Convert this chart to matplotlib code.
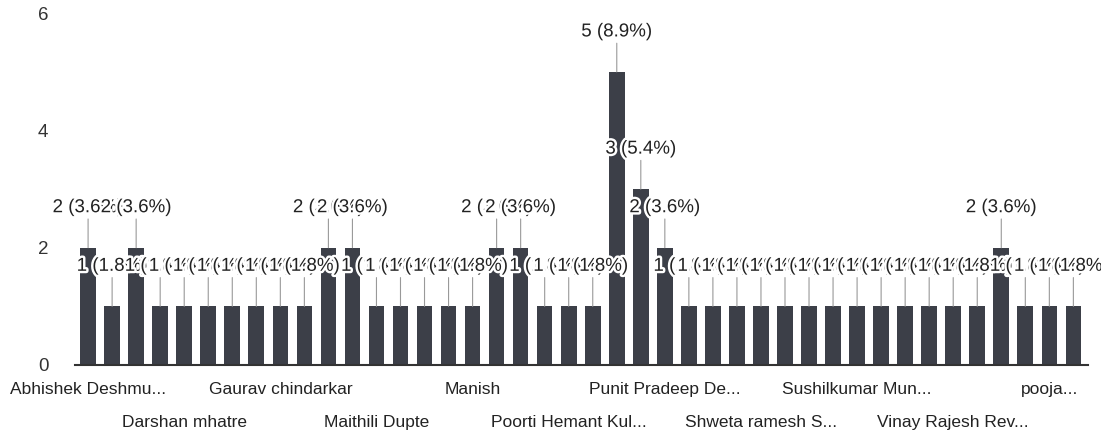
import matplotlib
matplotlib.use("Agg")
import matplotlib.pyplot as plt
import matplotlib.patheffects as pe

# responses per person (56 in total), left to right
counts = [2, 1, 2, 1, 1, 1, 1, 1, 1, 1,
          2, 2, 1, 1, 1, 1, 1, 2, 2, 1,
          1, 1, 5, 3, 2, 1, 1, 1, 1, 1,
          1, 1, 1, 1, 1, 1, 1, 1, 2, 1,
          1, 1]
# only every 4th name is printed under the axis
shown_names = ["Abhishek Deshmu...", "Darshan mhatre", "Gaurav chindarkar",
               "Maithili Dupte", "Manish", "Poorti Hemant Kul...",
               "Punit Pradeep De...", "Shweta ramesh S...", "Sushilkumar Mun...",
               "Vinay Rajesh Rev...", "pooja..."]
label_step = 4
y_ticks = [0, 2, 4, 6]

total = sum(counts)
plt.rcParams['font.family'] = ['Liberation Sans', 'DejaVu Sans']

fig = plt.figure(figsize=(11.01, 4.45), dpi=100)
ax = fig.add_axes([0.068, 0.18, 0.92, 0.79])

x = list(range(len(counts)))
ax.bar(x, counts, width=0.65, color='#3c3f48', zorder=2)

for i, c in enumerate(counts):
    ax.annotate(f"{c} ({c / total * 100:.1f}%)", xy=(i, c), xytext=(0, 40),
                textcoords='offset pixels', ha='center', va='center',
                fontsize=13.5, color='#222222', zorder=3,
                arrowprops=dict(arrowstyle='-', color='#999999', lw=0.8,
                                shrinkA=0, shrinkB=0),
                path_effects=[pe.withStroke(linewidth=3.5, foreground='white')])

ax.set_xlim(-0.55, len(counts) - 0.4)
ax.set_ylim(0, 6)
ax.set_yticks(y_ticks)
ax.tick_params(axis='y', length=0, pad=19, labelsize=13.5, labelcolor='#333333')

pos = x[::label_step]
ax.set_xticks(pos[0::2], shown_names[0::2])
ax.set_xticks(pos[1::2], shown_names[1::2], minor=True)
ax.tick_params(axis='x', which='both', length=0, labelsize=12.5, labelcolor='#222222')
ax.tick_params(axis='x', which='major', pad=12)
ax.tick_params(axis='x', which='minor', pad=36)

for s in ['top', 'right', 'left']:
    ax.spines[s].set_visible(False)
ax.spines['bottom'].set_color('#333333')
ax.spines['bottom'].set_linewidth(1.5)

fig.savefig('out.png', dpi=100)
